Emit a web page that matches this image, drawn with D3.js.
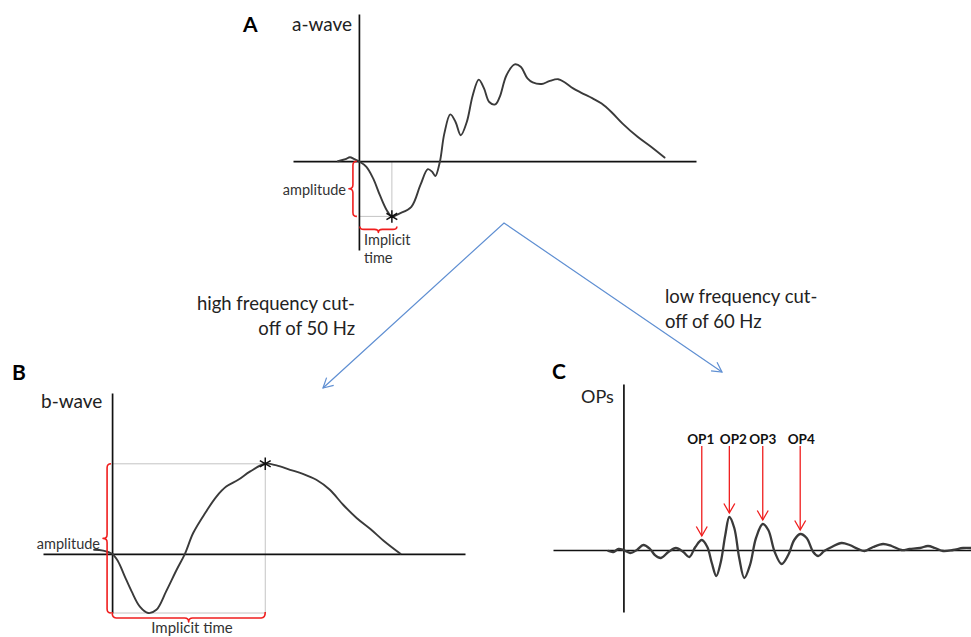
<!DOCTYPE html>
<html>
<head>
<meta charset="utf-8">
<script src="https://cdn.jsdelivr.net/npm/d3@7/dist/d3.min.js"></script>
<style>
  html, body { margin: 0; padding: 0; background: #fff; }
  svg { display: block; }
  text { font-family: Lato, "Open Sans", sans-serif; fill: #222; }
</style>
</head>
<body>
<svg id="chart" width="971" height="637"></svg>
<script>
// ---- a-wave (panel A): time in ms, amplitude in µV ----
const aTime = [-14, -9, -6, -3, 0, 5, 9.5, 14, 18.5, 22, 27, 35, 41, 46, 49, 51, 54, 57, 61, 64.5,
  68, 72, 76, 80, 83.5, 87, 91, 94, 98.5, 104, 108, 112.5, 116, 122, 127, 133, 137, 143, 148.5, 156,
  162, 168.5, 176, 186, 195, 204];
const aAmp = [0, 5, 10, 5, 0, -14, -43, -85, -122, -138, -131, -114, -60, -20, -27, -37, -2, 69, 117, 98,
  65, 98, 165, 204, 182, 148, 142, 161, 215, 242, 236, 207, 197, 193, 200, 205, 198, 182, 171, 157,
  144, 123, 94, 61, 36, 9];
const aTrough = { time: 22, amp: -138 };

// ---- b-wave (panel B) ----
const bTime = [-12, -6, 0, 4, 8.5, 13, 18.5, 24, 29.5, 36, 43, 48.5, 54, 62, 69.5, 76, 84, 92, 102, 109.5,
  118.5, 127, 136, 145, 154, 163, 172, 181, 192];
const bAmp = [10, 8, 0, -19, -57, -94, -132, -148, -140, -94, -40, 0, 52, 102, 143, 168, 185, 206, 225, 221,
  210, 200, 185, 160, 122, 89, 62, 32, 0];
const bTrough = { time: 24, amp: -148 };
const bPeak = { time: 102, amp: 225 };

// ---- oscillatory potentials (panel C) ----
const opTime = [-10, -6.7, -3.3, 0, 4.5, 9, 13.3, 17.8, 21, 25, 30, 35, 40, 44, 48, 52.3, 56, 59, 62, 65,
  68, 70.7, 74, 77.3, 80.7, 84.5, 88.5, 93, 96.7, 101, 105.6, 110, 114, 118, 122.3, 126.7, 130, 134, 139, 145.6,
  151, 156.7, 161, 166.7, 173.3, 179, 185.6, 191, 198, 203.3, 208, 213.3, 220, 226.7, 232];
const opAmp = [-1, -2, 1, 0, -3, 0, 5, 1, -5, -8, -2, 2, -2, -7, 3, 10, 3, -13, -26, -12,
  15, 33, 22, -8, -28, -15, 12, 26, 20, -2, -14, -5, 10, 16, 12, -2, -6, -1, 3, 7,
  5, 1, -1, 3, 6, 4, 0, 1, 2, 4, 2, -1, 0, 2, 2];
const opLabels = ["OP1", "OP2", "OP3", "OP4"];
const opPeakTime = [52.3, 70.7, 93, 118];
const opPeakAmp = [10, 33, 26, 16];

// ---- text ----
const panelLabels = ["A", "B", "C"];
const waveTitles = ["a-wave", "b-wave", "OPs"];
const filterNotes = [["high frequency cut-", "off of 50 Hz"], ["low frequency cut-", "off of 60 Hz"]];

const svg = d3.select("#chart");
const RED = "#f01e1e", BLUE = "#5f8fd2", GUIDE = "#c4c4c4", WAVE = "#3a3a3a";

// scales for each panel (domains are the extents of the drawn axes)
const xA = d3.scaleLinear().domain([-44, 225]).range([293, 696]);
const yA = d3.scaleLinear().domain([-222, 368]).range([250, 14]);
const xB = d3.scaleLinear().domain([-46, 235]).range([43, 465]);
const yB = d3.scaleLinear().domain([-148, 402]).range([613, 393]);
const xC = d3.scaleLinear().domain([-47, 232]).range([553, 971]);
const yC = d3.scaleLinear().domain([-62, 166]).range([612, 384]);

function drawAxes(g, x, y, w) {
  g.append("g").attr("transform", `translate(0,${y(0)})`)
    .call(d3.axisBottom(x).tickValues([]).tickSizeOuter(0))
    .select(".domain").attr("stroke", "#111").attr("stroke-width", w);
  g.append("g").attr("transform", `translate(${x(0)},0)`)
    .call(d3.axisLeft(y).tickValues([]).tickSizeOuter(0))
    .select(".domain").attr("stroke", "#111").attr("stroke-width", w);
}

function drawWave(g, x, y, ts, vs, w) {
  const line = d3.line().x(d => x(d[0])).y(d => y(d[1])).curve(d3.curveCatmullRom.alpha(0.5));
  g.append("path").datum(d3.zip(ts, vs)).attr("d", line)
    .attr("fill", "none").attr("stroke", WAVE).attr("stroke-width", w)
    .attr("stroke-linejoin", "round").attr("stroke-linecap", "round");
}

// curly brace, vertical: ends curl right, tip points left
function vBrace(x, y1, y2, hook, tip) {
  const ym = (y1 + y2) / 2, r = 4;
  return `M${x + hook},${y1} Q${x},${y1} ${x},${y1 + r} L${x},${ym - r} Q${x},${ym} ${x - tip},${ym}` +
    ` Q${x},${ym} ${x},${ym + r} L${x},${y2 - r} Q${x},${y2} ${x + hook},${y2}`;
}
// curly brace, horizontal: ends curl up, tip points down
function hBrace(y, x1, x2, hook, tip) {
  const xm = (x1 + x2) / 2, r = 4;
  return `M${x1},${y - hook} Q${x1},${y} ${x1 + r},${y} L${xm - r},${y} Q${xm},${y} ${xm},${y + tip}` +
    ` Q${xm},${y} ${xm + r},${y} L${x2 - r},${y} Q${x2},${y} ${x2},${y - hook}`;
}
function brace(g, d) {
  g.append("path").attr("d", d).attr("fill", "none").attr("stroke", RED)
    .attr("stroke-width", 1.6).attr("stroke-linejoin", "round");
}
function asterisk(g, cx, cy) {
  g.append("path").attr("d", d3.symbol(d3.symbolAsterisk, 110)())
    .attr("transform", `translate(${cx},${cy})`)
    .attr("fill", "none").attr("stroke", "#111").attr("stroke-width", 1.5);
}
function guide(g, x1, y1, x2, y2) {
  g.append("line").attr("x1", x1).attr("y1", y1).attr("x2", x2).attr("y2", y2)
    .attr("stroke", GUIDE).attr("stroke-width", 1);
}

// ---------- Panel A ----------
const gA = svg.append("g");
guide(gA, xA(aTrough.time), yA(0), xA(aTrough.time), yA(aTrough.amp));
guide(gA, xA(0), yA(aTrough.amp), xA(aTrough.time), yA(aTrough.amp));
drawAxes(gA, xA, yA, 1.7);
drawWave(gA, xA, yA, aTime, aAmp, 1.9);
asterisk(gA, xA(aTrough.time), yA(aTrough.amp));
brace(gA, vBrace(xA(0) - 6, yA(0), yA(aTrough.amp), 4, 4));
brace(gA, hBrace(yA(aTrough.amp) + 13, xA(0) + 1, xA(aTrough.time) + 5, 3, 3));
gA.append("text").attr("x", 243).attr("y", 32).attr("font-size", 21).attr("font-weight", 700)
  .style("fill", "#000").text(panelLabels[0]);
gA.append("text").attr("x", 292).attr("y", 31).attr("font-size", 19).text(waveTitles[0]);
gA.append("text").attr("x", 346).attr("y", 195).attr("text-anchor", "end").attr("font-size", 14.5)
  .style("fill", "#333").text("amplitude");
gA.append("text").attr("x", 364).attr("y", 245).attr("font-size", 14.5).style("fill", "#333").text("Implicit");
gA.append("text").attr("x", 364).attr("y", 263).attr("font-size", 14.5).style("fill", "#333").text("time");

// ---------- filter arrows ----------
const gF = svg.append("g");
const apex = [504, 223], tipL = [323, 388], tipR = [722, 372];
gF.append("path").attr("d", d3.line()([tipL, apex, tipR]))
  .attr("fill", "none").attr("stroke", BLUE).attr("stroke-width", 1.2);
function arrowHead(g, from, to, color, len, spread, w) {
  const ang = Math.atan2(to[1] - from[1], to[0] - from[0]);
  const p1 = [to[0] - len * Math.cos(ang - spread), to[1] - len * Math.sin(ang - spread)];
  const p2 = [to[0] - len * Math.cos(ang + spread), to[1] - len * Math.sin(ang + spread)];
  g.append("path").attr("d", d3.line()([p1, to, p2]))
    .attr("fill", "none").attr("stroke", color).attr("stroke-width", w).attr("stroke-linejoin", "miter");
}
arrowHead(gF, apex, tipL, BLUE, 11, 0.5, 1.2);
arrowHead(gF, apex, tipR, BLUE, 11, 0.5, 1.2);
filterNotes[0].forEach((s, i) => gF.append("text").attr("x", 355).attr("y", 310 + i * 25)
  .attr("text-anchor", "end").attr("font-size", 18.5).text(s));
filterNotes[1].forEach((s, i) => gF.append("text").attr("x", 665).attr("y", 303 + i * 25)
  .attr("font-size", 18.5).text(s));

// ---------- Panel B ----------
const gB = svg.append("g");
guide(gB, xB(0), yB(bPeak.amp), xB(bPeak.time), yB(bPeak.amp));
guide(gB, xB(bPeak.time), yB(bPeak.amp), xB(bPeak.time), yB(bTrough.amp));
guide(gB, xB(0), yB(bTrough.amp), xB(bPeak.time), yB(bTrough.amp));
drawAxes(gB, xB, yB, 1.7);
drawWave(gB, xB, yB, bTime, bAmp, 1.9);
asterisk(gB, xB(bPeak.time), yB(bPeak.amp));
brace(gB, vBrace(xB(0) - 5, yB(bPeak.amp), yB(bTrough.amp), 4, 4));
brace(gB, hBrace(yB(bTrough.amp) + 5, xB(0), xB(bPeak.time), 6, 4));
gB.append("text").attr("x", 12).attr("y", 380).attr("font-size", 21).attr("font-weight", 700)
  .style("fill", "#000").text(panelLabels[1]);
gB.append("text").attr("x", 41).attr("y", 408).attr("font-size", 19).text(waveTitles[1]);
gB.append("text").attr("x", 100).attr("y", 549).attr("text-anchor", "end").attr("font-size", 14.5)
  .style("fill", "#333").text("amplitude");
gB.append("text").attr("x", 192).attr("y", 633).attr("text-anchor", "middle").attr("font-size", 15)
  .style("fill", "#333").text("Implicit time");

// ---------- Panel C ----------
const gC = svg.append("g");
drawAxes(gC, xC, yC, 1.7);
drawWave(gC, xC, yC, opTime, opAmp, 2.3);
gC.append("text").attr("x", 552).attr("y", 379).attr("font-size", 21).attr("font-weight", 700)
  .style("fill", "#000").text(panelLabels[2]);
gC.append("text").attr("x", 581).attr("y", 403).attr("font-size", 18).text(waveTitles[2]);
// labels sit a little apart so neighbouring names do not touch
const labelShift = [-1, 4, 0, 1];
opLabels.forEach((lab, i) => {
  const px = xC(opPeakTime[i]), tipY = yC(opPeakAmp[i]) - 4;
  gC.append("line").attr("x1", px).attr("y1", 446).attr("x2", px).attr("y2", tipY)
    .attr("stroke", RED).attr("stroke-width", 1.3);
  arrowHead(gC, [px, 446], [px, tipY], RED, 11, 0.52, 1.3);
  gC.append("text").attr("x", px + labelShift[i]).attr("y", 444).attr("text-anchor", "middle")
    .attr("font-size", 13.5).attr("font-weight", 700).style("fill", "#111").text(lab);
});
</script>
</body>
</html>
